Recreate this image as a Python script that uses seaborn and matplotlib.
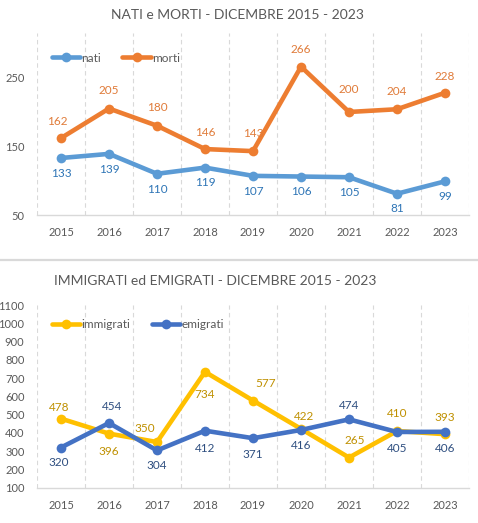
import matplotlib
matplotlib.use("Agg")
import matplotlib.pyplot as plt
import seaborn as sns
import pandas as pd

# ----------------------------------------------------------------------
# data
# ----------------------------------------------------------------------
anni = ["2015", "2016", "2017", "2018", "2019", "2020", "2021", "2022", "2023"]

nati = [133, 139, 110, 119, 107, 106, 105, 81, 99]
morti = [162, 205, 180, 146, 143, 266, 200, 204, 228]

immigrati = [478, 396, 350, 734, 577, 422, 265, 410, 393]
emigrati = [320, 454, 304, 412, 371, 416, 474, 405, 406]

# label offsets in points (dx, dy) - placed by hand like in the excel file
off_nati = [(0, -11)] * 9
off_morti = [(-3, 12), (0, 13), (0, 13), (0, 12), (0, 13), (0, 12), (0, 16), (0, 13), (0, 12)]
off_imm = [(-1, 8), (0, -13), (-9, 10), (0, -16), (9, 12), (2, 9), (4, 12), (0, 13), (0, 12)]
off_emi = [(-2, -11), (2, 12), (0, -11), (0, -13), (0, -12), (0, -11), (0, 10), (0, -12), (0, -12)]

sns.set_style("white")
plt.rcParams["font.family"] = ["Lato", "DejaVu Sans"]

GRIGIO = "#595959"
GRIGLIA = "#D9D9D9"

fig = plt.figure(figsize=(4.78, 5.23), dpi=100)
ax1 = fig.add_axes([0.0774, 1 - 215 / 523, 0.9038, 182 / 523])
ax2 = fig.add_axes([0.0774, 1 - 487.7 / 523, 0.9038, 182.7 / 523])

pos = list(range(len(anni)))


def disegna(ax, serie, ylim, yticks):
    for nome, valori, col_linea, col_testo, offs in serie:
        df = pd.DataFrame({"x": pos, "y": valori})
        sns.lineplot(data=df, x="x", y="y", ax=ax, color=col_linea, lw=3.3,
                     marker="o", markersize=7, markeredgewidth=0, label=nome)
        for xi, yi, (dx, dy) in zip(pos, valori, offs):
            ax.annotate(str(yi), (xi, yi), xytext=(dx, dy), textcoords="offset points",
                        ha="center", va="center", fontsize=8.5, color=col_testo)
    ax.set_xlim(-0.5, len(anni) - 0.5)
    ax.set_ylim(*ylim)
    ax.set_yticks(yticks)
    ax.set_xticks(pos)
    ax.set_xticklabels(anni)
    ax.set_xlabel("")
    ax.set_ylabel("")
    ax.tick_params(axis="both", length=0, colors=GRIGIO, labelsize=8)
    ax.tick_params(axis="y", pad=9)
    ax.tick_params(axis="x", pad=9)
    for b in [x - 0.5 for x in range(len(anni) + 1)]:
        ax.axvline(b, color=GRIGLIA, lw=0.8, ls=(0, (4, 3)), zorder=0)
    for s in ["top", "right", "left"]:
        ax.spines[s].set_visible(False)
    ax.spines["bottom"].set_color(GRIGLIA)
    ax.spines["bottom"].set_linewidth(1)
    ax.grid(False)


disegna(ax1, [("nati", nati, "#5B9BD5", "#2E75B6", off_nati),
              ("morti", morti, "#ED7D31", "#E07B39", off_morti)],
        (50, 315), [50, 150, 250])
disegna(ax2, [("immigrati", immigrati, "#FFC000", "#BF9000", off_imm),
              ("emigrati", emigrati, "#4472C4", "#2F4F80", off_emi)],
        (100, 1100), range(100, 1101, 100))

for ax, yy in [(ax1, 58), (ax2, 325)]:
    ax.legend(loc="center left", bbox_to_anchor=(46 / 478, 1 - yy / 523),
              bbox_transform=fig.transFigure, ncol=2, frameon=False,
              fontsize=8.5, handlelength=2.4, handletextpad=0.1,
              columnspacing=1.8, labelcolor=GRIGIO, borderpad=0)

fig.text(237 / 478, 1 - 15 / 523, "NATI e MORTI - DICEMBRE 2015 - 2023",
         ha="center", va="center", fontsize=10, color=GRIGIO)
fig.text(215 / 478, 1 - 281 / 523, "IMMIGRATI ed EMIGRATI - DICEMBRE 2015 - 2023",
         ha="center", va="center", fontsize=10, color=GRIGIO)

# separator between the two charts
fig.add_artist(plt.Line2D([0, 1], [1 - 260 / 523] * 2, transform=fig.transFigure,
                          color=GRIGLIA, lw=1.6))

fig.savefig("out.png", dpi=100)
